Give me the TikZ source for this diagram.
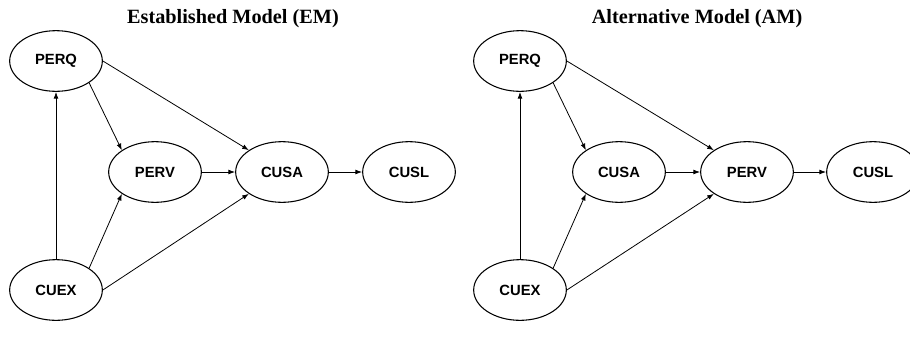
\documentclass[tikz,border=0pt]{standalone}
\usepackage{fontspec}
\setmainfont{Liberation Serif}
\newfontfamily\constructfont{Liberation Sans}
\usetikzlibrary{shapes.geometric,arrows.meta}

\tikzset{
  construct/.style={ellipse,draw,line width=0.8pt,inner sep=0pt,minimum width=69.5pt,minimum height=45.5pt,font=\constructfont\fontsize{11.1}{13}\selectfont\bfseries},
  path/.style={line width=0.6pt,-{Latex[length=5pt,width=3.6pt]}},
  modeltitle/.style={anchor=base,inner sep=0pt,font=\fontsize{15.2}{18}\selectfont\bfseries}
}

\begin{document}
\begin{tikzpicture}[x=0.75pt,y=0.75pt,yscale=-1,xscale=1]
\useasboundingbox (0,0) rectangle (910,351);
\clip (0,0) rectangle (910,351);

%Established model
\node [modeltitle] (emtitle) at (233,23) {Established Model (EM)};
\node [construct] (emperq) at (56,61) {PERQ};
\node [construct] (emperv) at (155,172) {PERV};
\node [construct] (emcusa) at (282,172) {CUSA};
\node [construct] (emcusl) at (409,172) {CUSL};
\node [construct] (emcuex) at (56,290) {CUEX};

\draw [path] (emcuex.north) -- (emperq.south);
\draw [path] (emperq.south east) -- (emperv.north west);
\draw [path] (emcuex.north east) -- (emperv.south west);
\draw [path] (emperq.east) -- (emcusa.north west);
\draw [path] (emcuex.east) -- (emcusa.south west);
\draw [path] (emperv.east) -- (emcusa.west);
\draw [path] (emcusa.east) -- (emcusl.west);

%Alternative model
\node [modeltitle] (amtitle) at (697,23) {Alternative Model (AM)};
\node [construct] (amperq) at (520,61) {PERQ};
\node [construct] (amcusa) at (619,172) {CUSA};
\node [construct] (amperv) at (747,172) {PERV};
\node [construct] (amcusl) at (873,172) {CUSL};
\node [construct] (amcuex) at (520,290) {CUEX};

\draw [path] (amcuex.north) -- (amperq.south);
\draw [path] (amperq.south east) -- (amcusa.north west);
\draw [path] (amcuex.north east) -- (amcusa.south west);
\draw [path] (amperq.east) -- (amperv.north west);
\draw [path] (amcuex.east) -- (amperv.south west);
\draw [path] (amcusa.east) -- (amperv.west);
\draw [path] (amperv.east) -- (amcusl.west);

\end{tikzpicture}
\end{document}
